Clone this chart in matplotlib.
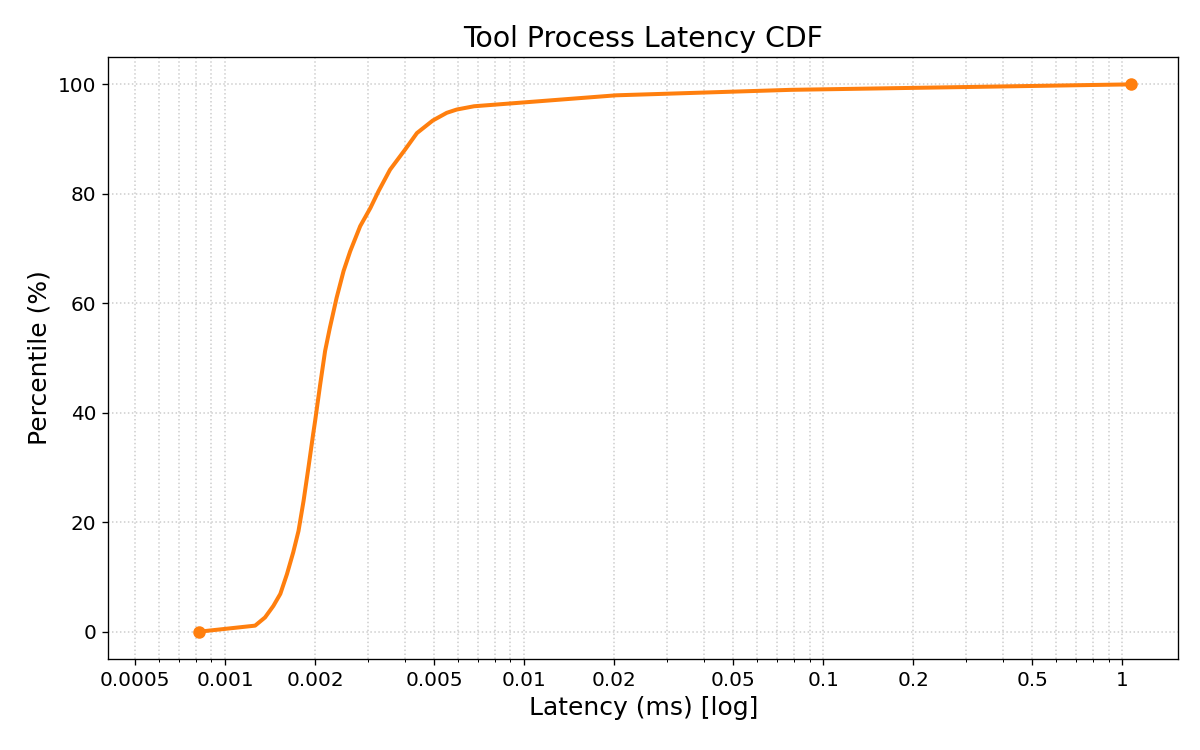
import matplotlib
matplotlib.use('Agg')
import matplotlib.pyplot as plt
from matplotlib.ticker import FixedLocator, FuncFormatter, LogLocator, NullFormatter

# latency (ms) at each percentile
latency_ms = [0.00082, 0.00126, 0.00136, 0.00145, 0.00153, 0.00161, 0.00169,
              0.00176, 0.00183, 0.00190, 0.00197, 0.00200, 0.00208, 0.00216,
              0.00224, 0.00236, 0.00249, 0.00262, 0.00283, 0.00306, 0.00326,
              0.00356, 0.00400, 0.00438, 0.00495, 0.00551, 0.00595, 0.0068,
              0.0203, 0.078, 1.072]
percentile = [0, 1.1, 2.6, 4.7, 6.9, 10.5, 14.5, 18.4, 23.9, 30.0, 36.1, 38.5,
              45.2, 51.3, 55.5, 61.0, 65.9, 69.5, 74.1, 77.4, 80.5, 84.4, 88.1,
              91.1, 93.4, 94.8, 95.4, 96.0, 98.0, 99.0, 100]
tick_values = [0.0005, 0.001, 0.002, 0.005, 0.01, 0.02, 0.05, 0.1, 0.2, 0.5, 1]

fig, ax = plt.subplots(figsize=(10, 6.25), dpi=120)

ax.plot(latency_ms, percentile, color='#ff7f0e', linewidth=2.4)
ax.plot([latency_ms[0], latency_ms[-1]], [percentile[0], percentile[-1]],
        'o', color='#ff7f0e', markersize=6.5)

ax.set_xscale('log')
ax.set_xlim(0.000406, 1.54)
ax.set_ylim(-5, 105)

ax.xaxis.set_major_locator(FixedLocator(tick_values))
ax.xaxis.set_major_formatter(FuncFormatter(lambda v, p: '%g' % v))
ax.xaxis.set_minor_locator(LogLocator(base=10, subs=range(1, 10), numticks=20))
ax.xaxis.set_minor_formatter(NullFormatter())

ax.grid(True, which='both', axis='x', linestyle=':', color='#cccccc', linewidth=0.9)
ax.grid(True, which='major', axis='y', linestyle=':', color='#cccccc', linewidth=0.9)

ax.tick_params(labelsize=12)
ax.set_xlabel('Latency (ms) [log]', fontsize=15)
ax.set_ylabel('Percentile (%)', fontsize=15)
ax.set_title('Tool Process Latency CDF', fontsize=17)

fig.subplots_adjust(left=0.09, right=0.982, bottom=0.1213, top=0.924)
fig.savefig('out.png')
